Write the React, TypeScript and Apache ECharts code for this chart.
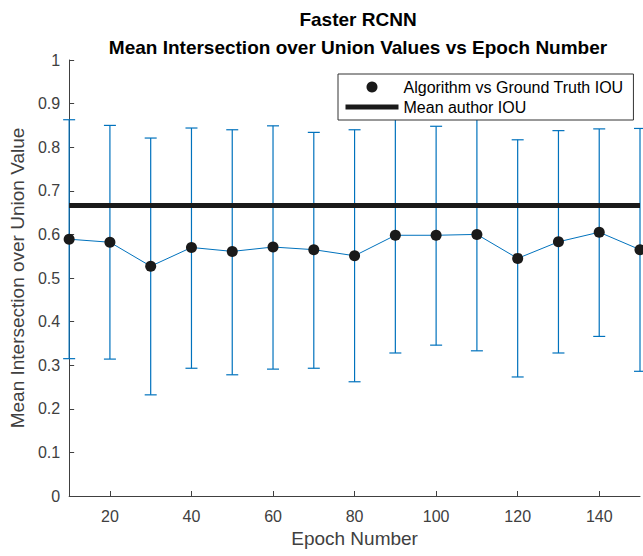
import React, { useEffect, useRef } from "react";
import * as echarts from "echarts";

const EPOCHS = [10, 20, 30, 40, 50, 60, 70, 80, 90, 100, 110, 120, 130, 140, 150];
const MEAN_IOU = [0.589, 0.582, 0.527, 0.570, 0.561, 0.571, 0.565, 0.551, 0.598, 0.598, 0.600, 0.545, 0.583, 0.605, 0.565];
const UPPER = [0.863, 0.850, 0.821, 0.844, 0.840, 0.849, 0.834, 0.840, 0.868, 0.848, 0.867, 0.817, 0.838, 0.842, 0.843];
const LOWER = [0.315, 0.314, 0.232, 0.293, 0.278, 0.291, 0.293, 0.262, 0.328, 0.346, 0.333, 0.273, 0.328, 0.366, 0.286];
const MEAN_AUTHOR_IOU = 0.666;
const X_TICKS = [20, 40, 60, 80, 100, 120, 140];

const BLUE = "#0072BD";
const AXIS = "#404040";
const FONT = "'Liberation Sans', Arial, sans-serif";

export default function App() {
  const ref = useRef<HTMLDivElement>(null);
  useEffect(() => {
    if (!ref.current) return;
    const chart = echarts.init(ref.current, undefined, { renderer: "svg" });
    const errData = EPOCHS.map((e, i) => [e, LOWER[i], UPPER[i]]);
    chart.setOption({
      animation: false,
      backgroundColor: "#fff",
      textStyle: { fontFamily: FONT },
      title: [
        {
          text: "Faster RCNN",
          left: 353,
          top: 5,
          textAlign: "center",
          textStyle: { fontSize: 19, fontWeight: "bold", color: "#000", fontFamily: FONT },
        },
        {
          text: "Mean Intersection over Union Values vs Epoch Number",
          left: 353,
          top: 33,
          textAlign: "center",
          textStyle: { fontSize: 19, fontWeight: "bold", color: "#000", fontFamily: FONT },
        },
      ],
      legend: {
        orient: "vertical",
        left: 338,
        top: 74,
        itemWidth: 53,
        itemHeight: 11,
        itemGap: 4,
        itemTextGap: 5,
        padding: [5, 10, 5, 5],
        borderColor: "#333",
        borderWidth: 1,
        backgroundColor: "#fff",
        selectedMode: false,
        textStyle: { fontSize: 16, color: "#000", fontFamily: FONT },
        data: [
          { name: "Algorithm vs Ground Truth IOU" },
          {
            name: "Mean author IOU",
            itemStyle: { opacity: 0 },
            lineStyle: { width: 5, color: "#1a1a1a" },
          },
        ],
      },
      grid: { left: 65, right: 3, top: 60, bottom: 60 },
      xAxis: {
        type: "value",
        min: 10,
        max: 150,
        name: "Epoch Number",
        nameLocation: "middle",
        nameGap: 32,
        nameTextStyle: { fontSize: 19, color: AXIS, fontFamily: FONT },
        axisLine: { lineStyle: { color: AXIS } },
        axisTick: { inside: true, length: 5, customValues: X_TICKS, lineStyle: { color: AXIS } },
        axisLabel: { customValues: X_TICKS, fontSize: 16, color: AXIS, margin: 12, fontFamily: FONT },
        splitLine: { show: false },
      },
      yAxis: {
        type: "value",
        min: 0,
        max: 1,
        interval: 0.1,
        name: "Mean Intersection over Union Value",
        nameLocation: "middle",
        nameGap: 35,
        nameTextStyle: { fontSize: 19, color: AXIS, fontFamily: FONT },
        axisLine: { show: true, lineStyle: { color: AXIS } },
        axisTick: { show: true, inside: true, length: 5, lineStyle: { color: AXIS } },
        axisLabel: { fontSize: 16, color: AXIS, margin: 9, fontFamily: FONT },
        splitLine: { show: false },
      },
      series: [
        {
          type: "custom",
          name: "errorbars",
          data: errData,
          z: 2,
          renderItem: (params: any, api: any) => {
            const x = api.value(0);
            const lo = api.coord([x, api.value(1)]);
            const hi = api.coord([x, api.value(2)]);
            const hw = 6;
            const style = { stroke: BLUE, lineWidth: 1.2 };
            return {
              type: "group",
              children: [
                { type: "line", shape: { x1: lo[0], y1: lo[1], x2: hi[0], y2: hi[1] }, style },
                { type: "line", shape: { x1: lo[0] - hw, y1: lo[1], x2: lo[0] + hw, y2: lo[1] }, style },
                { type: "line", shape: { x1: hi[0] - hw, y1: hi[1], x2: hi[0] + hw, y2: hi[1] }, style },
              ],
            };
          },
        },
        {
          type: "line",
          name: "meanline",
          data: EPOCHS.map((e, i) => [e, MEAN_IOU[i]]),
          symbol: "none",
          lineStyle: { color: BLUE, width: 1 },
          z: 3,
        },
        {
          type: "line",
          name: "Mean author IOU",
          data: [
            [EPOCHS[0], MEAN_AUTHOR_IOU],
            [EPOCHS[EPOCHS.length - 1], MEAN_AUTHOR_IOU],
          ],
          symbol: "none",
          showSymbol: false,
          lineStyle: { color: "#1a1a1a", width: 5 },
          itemStyle: { color: "#1a1a1a" },
          z: 4,
        },
        {
          type: "scatter",
          name: "Algorithm vs Ground Truth IOU",
          data: EPOCHS.map((e, i) => [e, MEAN_IOU[i]]),
          symbol: "circle",
          symbolSize: 11,
          itemStyle: { color: "#1a1a1a", opacity: 1 },
          z: 5,
        },
      ],
    });
    return () => chart.dispose();
  }, []);
  return (
    <div
      ref={ref}
      style={{ position: "fixed", left: 0, top: 0, width: 643, height: 556, background: "#fff" }}
    />
  );
}
